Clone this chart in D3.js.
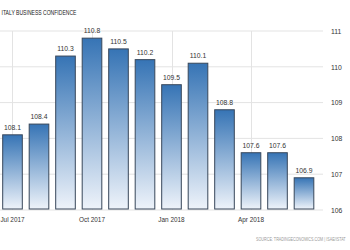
<!DOCTYPE html>
<html><head><meta charset="utf-8">
<script src="https://cdn.jsdelivr.net/npm/d3@7"></script>
<style>body{margin:0;background:#fff;}svg{display:block;}</style>
</head><body>
<svg id="c" width="350" height="250"></svg>
<script>
const months = ["Jul 2017","Aug 2017","Sep 2017","Oct 2017","Nov 2017","Dec 2017","Jan 2018","Feb 2018","Mar 2018","Apr 2018","May 2018","Jun 2018"];
const values = [108.1,108.4,110.3,110.8,110.5,110.2,109.5,110.1,108.8,107.6,107.6,106.9];
const xTickLabels = ["Jul 2017","Oct 2017","Jan 2018","Apr 2018"];
const yTicks = [106,107,108,109,110,111];

const svg = d3.select("#c");
const font = "'Liberation Sans Narrow','Arial Narrow','Liberation Sans',sans-serif";
const x = d3.scaleBand().domain(months).range([-0.75, 317.25]).paddingInner(0.26).paddingOuter(0.13);
const y = d3.scaleLinear().domain([106,111]).range([210,31]);
const plotRight = 323;

const defs = svg.append("defs");
const g = defs.append("linearGradient").attr("id","bg").attr("x1",0).attr("y1",0).attr("x2",0).attr("y2",1);
g.append("stop").attr("offset","0%").attr("stop-color","#3674b5");
g.append("stop").attr("offset","100%").attr("stop-color","#eef3fa");

// horizontal grid
svg.append("g").selectAll("line").data(yTicks).join("line")
  .attr("x1",0).attr("x2",plotRight).attr("y1",d=>y(d)).attr("y2",d=>y(d))
  .attr("stroke","#e3e3e3").attr("stroke-width",1);
// vertical grid
svg.append("g").selectAll("line").data(xTickLabels).join("line")
  .attr("x1",d=>Math.round(x(d)+x.bandwidth()/2)+0.5).attr("x2",d=>Math.round(x(d)+x.bandwidth()/2)+0.5)
  .attr("y1",y(111)).attr("y2",y(106))
  .attr("stroke","#e3e3e3").attr("stroke-width",1);

// bars
svg.append("g").selectAll("rect").data(values).join("rect")
  .attr("x",(d,i)=>x(months[i])).attr("width",x.bandwidth())
  .attr("y",d=>y(d)).attr("height",d=>y(106)-y(d)-1)
  .attr("fill","url(#bg)").attr("stroke","#38475a").attr("stroke-width",1);

// value labels
svg.append("g").selectAll("text").data(values).join("text")
  .attr("x",(d,i)=>x(months[i])+x.bandwidth()/2).attr("y",d=>y(d)-5)
  .attr("text-anchor","middle").attr("font-family",font).attr("font-size",6.8).attr("fill","#333")
  .text(d=>d.toFixed(1));

// y axis labels
const yAxis = d3.axisRight(y).tickValues(yTicks).tickSize(0).tickFormat(d3.format("d"));
const ya = svg.append("g").attr("transform",`translate(${plotRight+5},0)`).call(yAxis);
ya.select(".domain").remove();
ya.selectAll("text").attr("font-family",font).attr("font-size",6.8).attr("fill","#333").attr("dy","0.35em");

// x axis labels
const xAxis = d3.axisBottom(x).tickValues(xTickLabels).tickSize(0);
const xa = svg.append("g").attr("transform",`translate(0,${y(106)+4})`).call(xAxis);
xa.select(".domain").remove();
xa.selectAll("text").attr("font-family",font).attr("font-size",6.4).attr("fill","#333");

// title
const t = svg.append("text").attr("font-family",font).attr("font-size",6.8)
  .attr("fill","#222").text("ITALY BUSINESS CONFIDENCE");
const tw = t.node().getComputedTextLength();
t.attr("transform",`translate(1.5,15) scale(${75/tw},1)`);
// source
const s = svg.append("text").attr("font-family",font).attr("font-size",5)
  .attr("fill","#999").text("SOURCE: TRADINGECONOMICS.COM | ISAE/ISTAT");
const sw = s.node().getComputedTextLength();
s.attr("transform",`translate(256,241) scale(${90/sw},1)`);
</script>
</body></html>
